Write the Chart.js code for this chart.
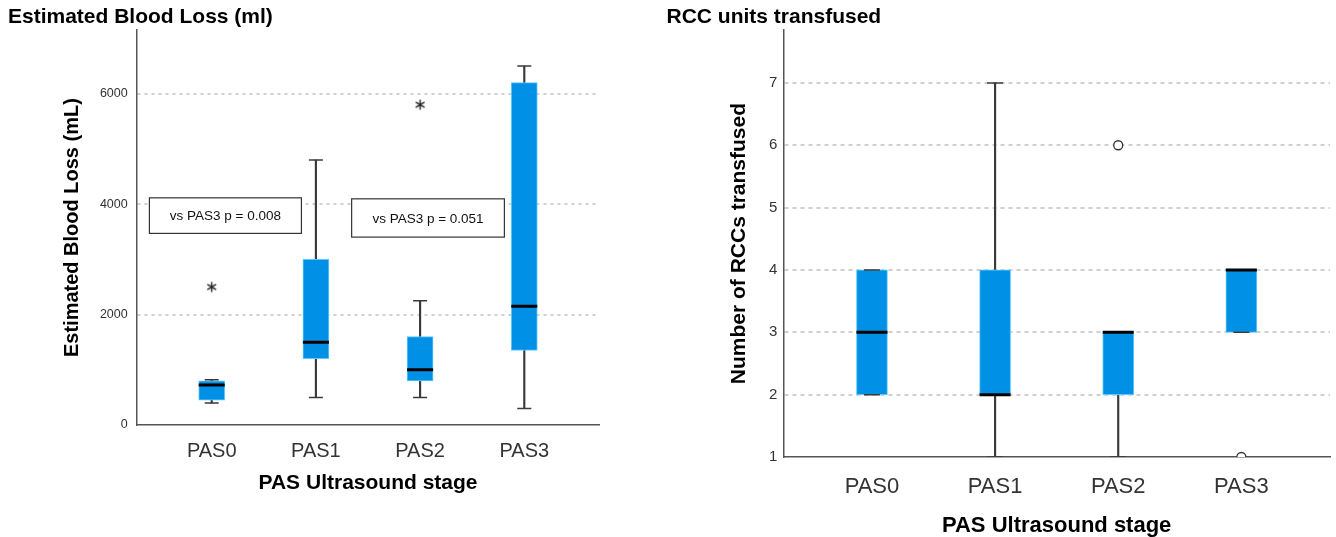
<!DOCTYPE html>
<html>
<head>
<meta charset="utf-8">
<script src="https://cdn.jsdelivr.net/npm/chart.js@4/dist/chart.umd.min.js"></script>
<style>
  html, body { margin: 0; padding: 0; background: #fff; }
  #wrap { position: relative; width: 1336px; height: 537px; overflow: hidden; background: #fff; }
  #c1 { position: absolute; left: 0; top: 0; }
  #c2 { position: absolute; left: 660px; top: 0; }
</style>
</head>
<body>
<div id="wrap">
  <canvas id="c1" width="660" height="537"></canvas>
  <canvas id="c2" width="676" height="537"></canvas>
</div>
<script>
// ---------- data ----------
const categories = ['PAS0', 'PAS1', 'PAS2', 'PAS3'];

// Estimated blood loss (mL)
const eblMin    = [400, 500, 500, 300];
const eblQ1     = [450, 1200, 800, 1350];
const eblMedian = [725, 1500, 1000, 2150];
const eblQ3     = [800, 3000, 1600, 6200];
const eblMax    = [820, 4800, 2250, 6500];
const eblOutlierCat = [0, 2];
const eblOutlierVal = [2500, 5800];
const eblTicks = [0, 2000, 4000, 6000];

// RCC units transfused
const rccMin    = [2, 1, 1, 3];
const rccQ1     = [2, 2, 2, 3];
const rccMedian = [3, 2, 3, 4];
const rccQ3     = [4, 4, 3, 4];
const rccMax    = [4, 7, 3, 4];
const rccOutlierCat = [2, 3];
const rccOutlierVal = [6, 1];
const rccTicks = [1, 2, 3, 4, 5, 6, 7];

const pValueNotes = ['vs PAS3 p = 0.008', 'vs PAS3 p = 0.051'];

// ---------- helpers ----------
const FONT = '"Liberation Sans", Arial, Helvetica, sans-serif';

function makeAsterisk() {
  const c = document.createElement('canvas');
  c.width = 13; c.height = 13;
  const g = c.getContext('2d');
  g.strokeStyle = '#222';
  g.lineWidth = 1.4;
  g.lineCap = 'round';
  const r = 4.6;
  for (const a of [90, 30, 150]) {
    const t = a * Math.PI / 180;
    g.beginPath();
    g.moveTo(6.5 - r * Math.cos(t), 6.5 - r * Math.sin(t));
    g.lineTo(6.5 + r * Math.cos(t), 6.5 + r * Math.sin(t));
    g.stroke();
  }
  return c;
}

const notesPlugin = {
  id: 'pnotes',
  afterDatasetsDraw(chart, args, opts) {
    const boxes = opts && opts.boxes;
    if (!boxes) return;
    const xs = chart.scales.x, ys = chart.scales.y, ctx = chart.ctx;
    ctx.save();
    boxes.forEach(b => {
      const x0 = xs.getPixelForValue(b.x0), x1 = xs.getPixelForValue(b.x1);
      const y0 = ys.getPixelForValue(b.y0), y1 = ys.getPixelForValue(b.y1);
      ctx.fillStyle = '#fff';
      ctx.fillRect(x0, y0, x1 - x0, y1 - y0);
      ctx.strokeStyle = '#333';
      ctx.lineWidth = 1.2;
      ctx.strokeRect(x0, y0, x1 - x0, y1 - y0);
      ctx.fillStyle = '#111';
      ctx.font = '13.5px ' + FONT;
      ctx.textAlign = 'center';
      ctx.textBaseline = 'middle';
      ctx.fillText(b.text, (x0 + x1) / 2, (y0 + y1) / 2 + 1);
    });
    ctx.restore();
  }
};

function buildBoxChart(canvas, s) {
  const idx = categories.map((c, i) => i);
  const datasets = [
    { // whiskers
      type: 'bar', order: 5, grouped: false,
      data: idx.map(i => ({ x: i, y: [s.min[i], s.max[i]] })),
      backgroundColor: '#3a3a3a', borderWidth: 0, barThickness: 1.5
    },
    { // boxes
      type: 'bar', order: 4, grouped: false,
      data: idx.map(i => ({ x: i, y: [s.q1[i], s.q3[i]] })),
      backgroundColor: '#0091e6', borderColor: '#5cc8ff', borderWidth: 1,
      borderSkipped: false, barThickness: s.boxWidth
    },
    { // whisker caps
      type: 'scatter', order: 3,
      data: idx.flatMap(i => [{ x: i, y: s.min[i] }, { x: i, y: s.max[i] }]),
      pointStyle: 'line', pointRadius: s.capR, pointHoverRadius: s.capR,
      pointBorderColor: '#3a3a3a', pointBorderWidth: 1.5, pointBackgroundColor: 'rgba(0,0,0,0)'
    },
    { // medians
      type: 'scatter', order: 2,
      data: idx.map(i => ({ x: i, y: s.median[i] })),
      pointStyle: 'line', pointRadius: s.boxWidth / 2, pointHoverRadius: s.boxWidth / 2,
      pointBorderColor: '#000', pointBorderWidth: 3, pointBackgroundColor: 'rgba(0,0,0,0)'
    },
    { // outliers
      type: 'scatter', order: 1,
      data: s.outCat.map((c, k) => ({ x: c, y: s.outVal[k] })),
      pointStyle: s.outStyle, pointRadius: s.outR, pointHoverRadius: s.outR,
      pointBorderColor: '#333', pointBorderWidth: 1.3, pointBackgroundColor: '#fff'
    }
  ];

  const tickVals = s.ticks;
  return new Chart(canvas, {
    type: 'bar',
    data: { datasets },
    plugins: s.notes ? [notesPlugin] : [],
    options: {
      responsive: false,
      animation: false,
      events: [],
      layout: { padding: s.layoutPadding, autoPadding: false },
      plugins: {
        legend: { display: false },
        tooltip: { enabled: false },
        title: {
          display: true, text: s.title, align: 'start', color: '#000',
          font: { family: FONT, size: 21, weight: 'bold' },
          padding: { top: 5, bottom: 0 }
        },
        pnotes: s.notes ? { boxes: s.notes } : undefined
      },
      scales: {
        x: {
          type: 'linear', min: -0.72, max: 3.72, offset: false,
          grid: { display: false, offset: false },
          border: { display: true, color: '#555', width: 1.5 },
          afterBuildTicks: sc => { sc.ticks = idx.map(i => ({ value: i })); },
          afterFit: sc => { sc.height = s.xHeight; sc.paddingLeft = 0; sc.paddingRight = 0; },
          ticks: {
            autoSkip: false, maxRotation: 0, color: '#333', padding: s.xTickPad,
            font: { family: FONT, size: s.xTickSize },
            callback: v => categories[v] !== undefined ? categories[v] : ''
          },
          title: {
            display: true, text: 'PAS Ultrasound stage', color: '#000',
            font: { family: FONT, size: s.xTitleSize, weight: 'bold' },
            padding: { top: 0, bottom: s.xTitlePad }
          }
        },
        y: {
          type: 'linear', min: s.yMin, max: s.yMax, beginAtZero: false,
          afterBuildTicks: sc => { sc.ticks = tickVals.map(v => ({ value: v })); },
          afterFit: sc => { sc.width = s.yWidth; sc.paddingTop = 0; sc.paddingBottom = 0; },
          grid: {
            drawTicks: false, lineWidth: 2,
            color: c => (c.tick && c.tick.value === tickVals[0]) ? 'rgba(0,0,0,0)' : '#d0d0d0'
          },
          border: { display: true, color: '#555', width: 1.5, dash: s.dash },
          ticks: {
            color: '#333', padding: s.yTickPad,
            font: { family: FONT, size: s.yTickSize },
            callback: v => String(v)
          },
          title: {
            display: true, text: s.yTitle, color: '#000',
            font: { family: FONT, size: s.yTitleSize, weight: 'bold' },
            padding: { top: s.yTitlePad, bottom: 0 }
          }
        }
      }
    }
  });
}

const asterisk = makeAsterisk();

buildBoxChart(document.getElementById('c1'), {
  title: 'Estimated Blood Loss (ml)',
  yTitle: 'Estimated Blood Loss (mL)',
  min: eblMin, q1: eblQ1, median: eblMedian, q3: eblQ3, max: eblMax,
  outCat: eblOutlierCat, outVal: eblOutlierVal, outStyle: asterisk, outR: 6,
  ticks: eblTicks, yMin: 0, yMax: 7150,
  boxWidth: 26, capR: 7,
  layoutPadding: { left: 8, right: 60.7, top: 0, bottom: 0 },
  yWidth: 128.7, xHeight: 112,
  xTickSize: 20, xTickPad: 6.5, xTitleSize: 21, xTitlePad: 41.6,
  yTickSize: 12.5, yTickPad: 9, yTitleSize: 20, yTitlePad: 52.5,
  dash: [3, 4],
  notes: [
    { text: pValueNotes[0], x0: -0.598, x1: 0.861, y0: 4114, y1: 3470 },
    { text: pValueNotes[1], x0: 1.343, x1: 2.809, y0: 4096, y1: 3403 }
  ]
});

buildBoxChart(document.getElementById('c2'), {
  title: 'RCC units transfused',
  yTitle: 'Number of RCCs transfused',
  min: rccMin, q1: rccQ1, median: rccMedian, q3: rccQ3, max: rccMax,
  outCat: rccOutlierCat, outVal: rccOutlierVal, outStyle: 'circle', outR: 4.5,
  ticks: rccTicks, yMin: 1, yMax: 7.845,
  boxWidth: 31, capR: 8,
  layoutPadding: { left: 6.5, right: 6, top: 0, bottom: 0 },
  yWidth: 116.8, xHeight: 80,
  xTickSize: 22, xTickPad: 8.6, xTitleSize: 22, xTitlePad: -2.5,
  yTickSize: 15, yTickPad: 6, yTitleSize: 21, yTitlePad: 60.2,
  dash: [4, 4],
  notes: null
});
</script>
</body>
</html>
